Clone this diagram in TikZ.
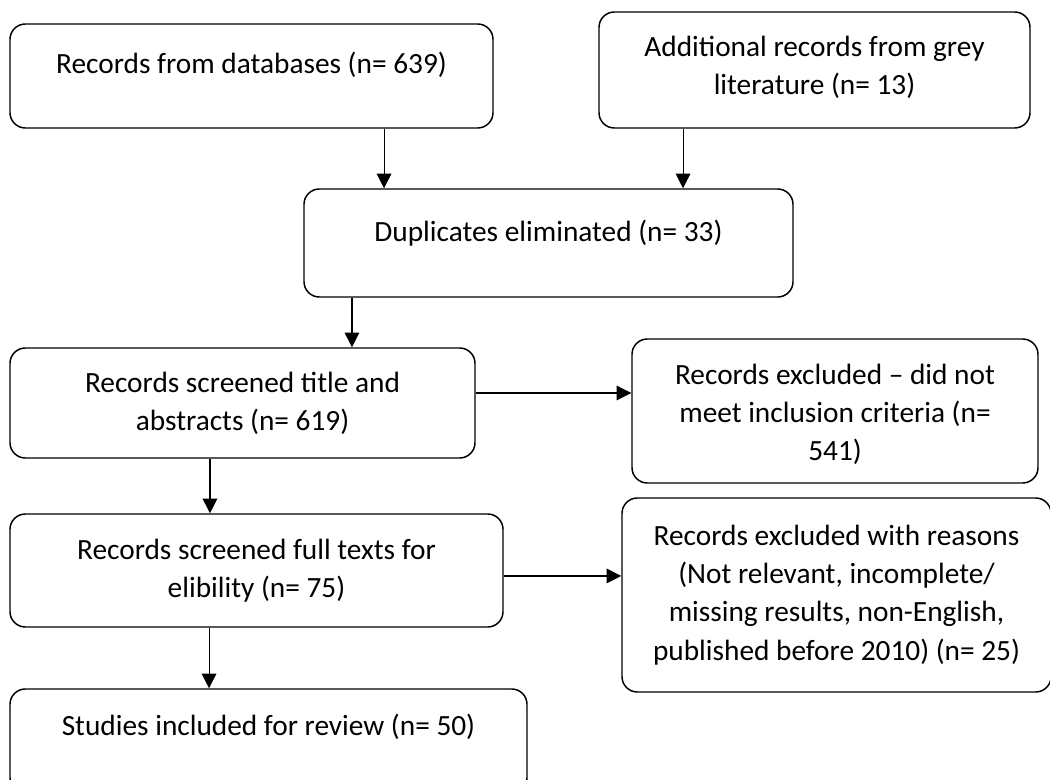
\documentclass[tikz,border=0pt]{standalone}
\usepackage{fontspec}
\setmainfont{Carlito}
\usetikzlibrary{arrows.meta}
\tikzset{
  box/.style={draw=black, line width=1.1pt, rounded corners=11.5pt, align=center, inner sep=0pt, font=\fontsize{22pt}{28.6pt}\selectfont},
  arr/.style={draw=black, line width=0.8pt, -{Triangle[length=11pt,width=11pt]}}
}
\newcommand{\lift}[2]{\raisebox{#1}[\height][\depth]{#2}}
\newcommand{\lines}[1]{\begin{tabular}{@{}c@{}}#1\end{tabular}}
\begin{document}
\begin{tikzpicture}[x=0.75pt,y=-0.75pt]
\useasboundingbox (0,0) rectangle (1050,780);
\clip (0,0) rectangle (1050,780);
\node[box, minimum width=362.25pt, minimum height=78pt] (b1) at (251.5,76) {\lift{8.25pt}{Records from databases (n= 639)}};
\node[box, minimum width=323.25pt, minimum height=87pt] (b2) at (814.5,70) {\lift{1.5pt}{\lines{Additional records from grey\\literature (n= 13)}}};
\node[box, minimum width=366.75pt, minimum height=81pt] (b3) at (548.5,243) {\lift{7.5pt}{Duplicates eliminated (n= 33)}};
\node[box, minimum width=348.75pt, minimum height=82.5pt] (b4) at (242.5,403) {Records screened title and\\abstracts (n= 619)};
\node[box, minimum width=304.5pt, minimum height=108pt] (b5) at (835,411) {\lift{-3pt}{\lines{Records excluded -- did not\\meet inclusion criteria (n=\\541)}}};
\node[box, minimum width=369.75pt, minimum height=84.75pt] (b6) at (256.5,570.5) {Records screened full texts for\\elibility (n= 75)};
\node[box, minimum width=321.75pt, minimum height=145.5pt] (b7) at (836.5,595) {Records excluded with reasons\\(Not relevant, incomplete/\\missing results, non-English,\\published before 2010) (n= 25)};
\node[box, minimum width=387.75pt, minimum height=78pt] (b8) at (268.5,741) {\lift{10.5pt}{Studies included for review (n= 50)}};
\draw[arr] ([xshift=99.4pt]b1.south) -- ([xshift=99.4pt]b1.south |- b3.north);
\draw[arr] ([xshift=-98.6pt]b2.south) -- ([xshift=-98.6pt]b2.south |- b3.north);
\draw[arr] ([xshift=-147.4pt]b3.south) -- ([xshift=-147.4pt]b3.south |- b4.north);
\draw[arr] ([yshift=7.5pt]b4.east) -- ([yshift=7.5pt]b4.east -| b5.west);
\draw[arr] ([xshift=-24.4pt]b4.south) -- ([xshift=-24.4pt]b4.south |- b6.north);
\draw[arr] ([yshift=-4.1pt]b6.east) -- ([yshift=-4.1pt]b6.east -| b7.west);
\draw[arr] ([xshift=-35.6pt]b6.south) -- ([xshift=-35.6pt]b6.south |- b8.north);
\end{tikzpicture}
\end{document}
